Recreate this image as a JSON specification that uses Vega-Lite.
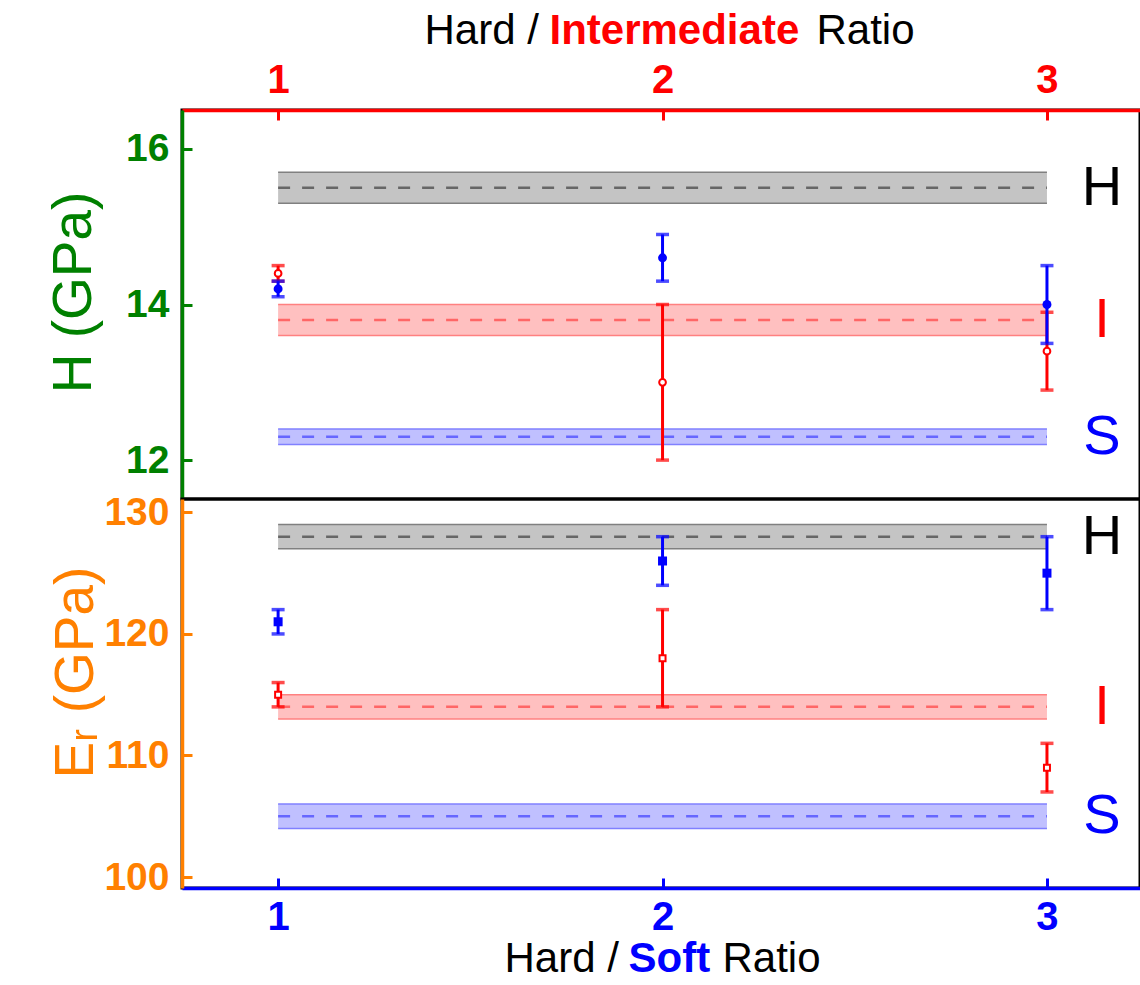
{
  "$schema": "https://vega.github.io/schema/vega-lite/v6.json",
  "padding": {"left": 44, "top": 7, "right": 1, "bottom": 2},
  "bounds": "flush",
  "spacing": 0,
  "config": {
    "view": {"stroke": "#000000", "strokeWidth": 3},
    "font": "Liberation Sans",
    "axis": {"grid": false, "labelFont": "Liberation Sans", "titleFont": "Liberation Sans", "labelFlush": false, "labelOverlap": false}
  },
  "datasets": {
    "hBands": [
      {"band": "H", "c": 15.5, "lo": 15.3, "hi": 15.7},
      {"band": "I", "c": 13.8, "lo": 13.6, "hi": 14.0},
      {"band": "S", "c": 12.3, "lo": 12.2, "hi": 12.4}
    ],
    "eBands": [
      {"band": "H", "c": 128, "lo": 127, "hi": 129},
      {"band": "I", "c": 114, "lo": 113, "hi": 115},
      {"band": "S", "c": 105, "lo": 104, "hi": 106}
    ],
    "hPts": [
      {"ratio": 1, "series": "HI", "v": 14.4, "lo": 14.3, "hi": 14.5},
      {"ratio": 2, "series": "HI", "v": 13.0, "lo": 12.0, "hi": 14.0},
      {"ratio": 3, "series": "HI", "v": 13.4, "lo": 12.9, "hi": 13.9},
      {"ratio": 1, "series": "HS", "v": 14.2, "lo": 14.1, "hi": 14.3},
      {"ratio": 2, "series": "HS", "v": 14.6, "lo": 14.3, "hi": 14.9},
      {"ratio": 3, "series": "HS", "v": 14.0, "lo": 13.5, "hi": 14.5}
    ],
    "ePts": [
      {"ratio": 1, "series": "HI", "v": 115, "lo": 114, "hi": 116},
      {"ratio": 2, "series": "HI", "v": 118, "lo": 114, "hi": 122},
      {"ratio": 3, "series": "HI", "v": 109, "lo": 107, "hi": 111},
      {"ratio": 1, "series": "HS", "v": 121, "lo": 120, "hi": 122},
      {"ratio": 2, "series": "HS", "v": 126, "lo": 124, "hi": 128},
      {"ratio": 3, "series": "HS", "v": 125, "lo": 122, "hi": 128}
    ]
  },
  "vconcat": [
    {
      "width": 958,
      "height": 389,
      "resolve": {"axis": {"x": "independent", "y": "independent"}, "scale": {"fill": "independent", "stroke": "independent"}},
      "layer": [
        {
          "data": {"name": "hBands"},
          "mark": {"type": "rect"},
          "encoding": {
            "x": {"datum": 1, "type": "quantitative", "scale": {"domain": [0.75, 3.242], "nice": false, "zero": false},
              "axis": {"orient": "top", "values": [1, 2, 3], "format": "d", "labelFontSize": 40, "labelFontWeight": "bold", "labelColor": "#ff0000", "labelBaseline": "alphabetic", "labelPadding": 28, "tickSize": -10, "tickWidth": 3, "tickColor": "#ff0000", "domainColor": "#ff0000", "domainWidth": 3.5, "title": "Hard /", "titleFontSize": 42, "titleFontWeight": "normal", "titleColor": "#000000", "titleX": 242, "titleY": -67, "titleAlign": "left", "titleBaseline": "alphabetic"}},
            "x2": {"datum": 3},
            "y": {"field": "lo", "type": "quantitative", "scale": {"domain": [11.5, 16.5], "nice": false, "zero": false},
              "axis": {"orient": "left", "values": [12, 14, 16], "format": "d", "labelFontSize": 39, "labelFontWeight": "bold", "labelColor": "#008000", "labelPadding": 23, "labelBaseline": "middle", "tickSize": -10, "tickWidth": 3, "tickColor": "#008000", "domainColor": "#008000", "domainWidth": 3.5, "title": "H (GPa)", "titleFontSize": 55, "titleFontWeight": "normal", "titleColor": "#008000", "titleX": -92, "titleY": 182, "titleAngle": 270, "titleAlign": "center", "titleBaseline": "alphabetic"}},
            "y2": {"field": "hi"},
            "fill": {"field": "band", "type": "nominal", "scale": {"domain": ["H", "I", "S"], "range": ["#c4c4c4", "#ffc0c0", "#c0c0ff"]}, "legend": null}
          }
        },
        {
          "data": {"name": "hBands"},
          "mark": {"type": "rule", "strokeWidth": 1.5},
          "encoding": {
            "x": {"datum": 1, "type": "quantitative",
              "axis": {"orient": "top", "labels": false, "ticks": false, "domain": false, "title": "Intermediate", "titleFontSize": 42, "titleFontWeight": "bold", "titleColor": "#ff0000", "titleX": 367, "titleY": -67, "titleAlign": "left", "titleBaseline": "alphabetic"}},
            "x2": {"datum": 3},
            "y": {"field": "lo", "type": "quantitative", "axis": null},
            "stroke": {"field": "band", "type": "nominal", "scale": {"domain": ["H", "I", "S"], "range": ["#808080", "#ff8080", "#8080ff"]}, "legend": null}
          }
        },
        {
          "data": {"name": "hBands"},
          "mark": {"type": "rule", "strokeWidth": 1.5},
          "encoding": {
            "x": {"datum": 1, "type": "quantitative",
              "axis": {"orient": "top", "labels": false, "ticks": false, "domain": false, "title": "Ratio", "titleFontSize": 42, "titleFontWeight": "normal", "titleColor": "#000000", "titleX": 634, "titleY": -67, "titleAlign": "left", "titleBaseline": "alphabetic"}},
            "x2": {"datum": 3},
            "y": {"field": "hi", "type": "quantitative", "axis": null},
            "stroke": {"field": "band", "type": "nominal", "scale": {"domain": ["H", "I", "S"], "range": ["#808080", "#ff8080", "#8080ff"]}, "legend": null}
          }
        },
        {
          "data": {"name": "hBands"},
          "mark": {"type": "rule", "strokeWidth": 2.5, "strokeDash": [12, 12]},
          "encoding": {
            "x": {"datum": 1, "type": "quantitative", "axis": null},
            "x2": {"datum": 3},
            "y": {"field": "c", "type": "quantitative", "axis": null},
            "stroke": {"field": "band", "type": "nominal", "scale": {"domain": ["H", "I", "S"], "range": ["#666666", "#ff6666", "#6666ff"]}, "legend": null}
          }
        },
        {
          "data": {"name": "hPts"},
          "transform": [{"filter": "datum.series == 'HI'"}],
          "mark": {"type": "errorbar", "orient": "vertical", "ticks": {"thickness": 3.5}, "rule": {"strokeWidth": 3}, "size": 13, "thickness": 3, "color": "#ff0000"},
          "encoding": {
            "x": {"field": "ratio", "type": "quantitative", "axis": null},
            "y": {"field": "lo", "type": "quantitative", "axis": null},
            "y2": {"field": "hi"}
          }
        },
        {
          "data": {"name": "hPts"},
          "transform": [{"filter": "datum.series == 'HS'"}],
          "mark": {"type": "errorbar", "orient": "vertical", "ticks": {"thickness": 3.5}, "rule": {"strokeWidth": 3}, "size": 13, "thickness": 3, "color": "#0000ff"},
          "encoding": {
            "x": {"field": "ratio", "type": "quantitative", "axis": null},
            "y": {"field": "lo", "type": "quantitative", "axis": null},
            "y2": {"field": "hi"}
          }
        },
        {
          "data": {"name": "hPts"},
          "transform": [{"filter": "datum.series == 'HI'"}],
          "mark": {"type": "point", "shape": "circle", "filled": true, "fill": "#ffffff", "stroke": "#ff0000", "strokeWidth": 2, "size": 45, "opacity": 1},
          "encoding": {
            "x": {"field": "ratio", "type": "quantitative", "axis": null},
            "y": {"field": "v", "type": "quantitative", "axis": null}
          }
        },
        {
          "data": {"name": "hPts"},
          "transform": [{"filter": "datum.series == 'HS'"}],
          "mark": {"type": "point", "shape": "circle", "filled": true, "color": "#0000ff", "size": 80, "opacity": 1},
          "encoding": {
            "x": {"field": "ratio", "type": "quantitative", "axis": null},
            "y": {"field": "v", "type": "quantitative", "axis": null}
          }
        },
        {
          "data": {"name": "hBands"},
          "mark": {"type": "text", "fontSize": 56, "font": "Liberation Sans", "baseline": "middle", "align": "center"},
          "encoding": {
            "x": {"datum": 3.143, "type": "quantitative", "axis": null},
            "y": {"field": "c", "type": "quantitative", "axis": null},
            "text": {"field": "band"},
            "color": {"field": "band", "type": "nominal", "scale": {"domain": ["H", "I", "S"], "range": ["#000000", "#ff0000", "#0000ff"]}, "legend": null}
          }
        }
      ]
    },
    {
      "width": 958,
      "height": 389,
      "resolve": {"axis": {"x": "independent", "y": "independent"}, "scale": {"fill": "independent", "stroke": "independent"}},
      "layer": [
        {
          "data": {"name": "eBands"},
          "mark": {"type": "rect"},
          "encoding": {
            "x": {"datum": 1, "type": "quantitative", "scale": {"domain": [0.75, 3.242], "nice": false, "zero": false},
              "axis": {"orient": "bottom", "values": [1, 2, 3], "format": "d", "labelFontSize": 40, "labelFontWeight": "bold", "labelColor": "#0000ff", "labelBaseline": "top", "labelPadding": 19, "tickSize": -10, "tickWidth": 3, "tickColor": "#0000ff", "domainColor": "#0000ff", "domainWidth": 3.5, "title": "Hard /", "titleFontSize": 42, "titleFontWeight": "normal", "titleColor": "#000000", "titleX": 322, "titleY": 83, "titleAlign": "left", "titleBaseline": "alphabetic"}},
            "x2": {"datum": 3},
            "y": {"field": "lo", "type": "quantitative", "scale": {"domain": [99.1, 131.1], "nice": false, "zero": false},
              "axis": {"orient": "left", "values": [100, 110, 120, 130], "format": "d", "labelFontSize": 39, "labelFontWeight": "bold", "labelColor": "#ff8000", "labelPadding": 23, "labelBaseline": "middle", "tickSize": -10, "tickWidth": 3, "tickColor": "#ff8000", "domainColor": "#ff8000", "domainWidth": 3.5, "title": "Eᵣ (GPa)", "titleFontSize": 55, "titleFontWeight": "normal", "titleColor": "#ff8000", "titleX": -90, "titleY": 173, "titleAngle": 270, "titleAlign": "center", "titleBaseline": "alphabetic"}},
            "y2": {"field": "hi"},
            "fill": {"field": "band", "type": "nominal", "scale": {"domain": ["H", "I", "S"], "range": ["#c4c4c4", "#ffc0c0", "#c0c0ff"]}, "legend": null}
          }
        },
        {
          "data": {"name": "eBands"},
          "mark": {"type": "rule", "strokeWidth": 1.5},
          "encoding": {
            "x": {"datum": 1, "type": "quantitative",
              "axis": {"orient": "bottom", "labels": false, "ticks": false, "domain": false, "title": "Soft", "titleFontSize": 42, "titleFontWeight": "bold", "titleColor": "#0000ff", "titleX": 446, "titleY": 83, "titleAlign": "left", "titleBaseline": "alphabetic"}},
            "x2": {"datum": 3},
            "y": {"field": "lo", "type": "quantitative", "axis": null},
            "stroke": {"field": "band", "type": "nominal", "scale": {"domain": ["H", "I", "S"], "range": ["#808080", "#ff8080", "#8080ff"]}, "legend": null}
          }
        },
        {
          "data": {"name": "eBands"},
          "mark": {"type": "rule", "strokeWidth": 1.5},
          "encoding": {
            "x": {"datum": 1, "type": "quantitative",
              "axis": {"orient": "bottom", "labels": false, "ticks": false, "domain": false, "title": "Ratio", "titleFontSize": 42, "titleFontWeight": "normal", "titleColor": "#000000", "titleX": 540, "titleY": 83, "titleAlign": "left", "titleBaseline": "alphabetic"}},
            "x2": {"datum": 3},
            "y": {"field": "hi", "type": "quantitative", "axis": null},
            "stroke": {"field": "band", "type": "nominal", "scale": {"domain": ["H", "I", "S"], "range": ["#808080", "#ff8080", "#8080ff"]}, "legend": null}
          }
        },
        {
          "data": {"name": "eBands"},
          "mark": {"type": "rule", "strokeWidth": 2.5, "strokeDash": [12, 12]},
          "encoding": {
            "x": {"datum": 1, "type": "quantitative", "axis": null},
            "x2": {"datum": 3},
            "y": {"field": "c", "type": "quantitative", "axis": null},
            "stroke": {"field": "band", "type": "nominal", "scale": {"domain": ["H", "I", "S"], "range": ["#666666", "#ff6666", "#6666ff"]}, "legend": null}
          }
        },
        {
          "data": {"name": "ePts"},
          "transform": [{"filter": "datum.series == 'HI'"}],
          "mark": {"type": "errorbar", "orient": "vertical", "ticks": {"thickness": 3.5}, "rule": {"strokeWidth": 3}, "size": 13, "thickness": 3, "color": "#ff0000"},
          "encoding": {
            "x": {"field": "ratio", "type": "quantitative", "axis": null},
            "y": {"field": "lo", "type": "quantitative", "axis": null},
            "y2": {"field": "hi"}
          }
        },
        {
          "data": {"name": "ePts"},
          "transform": [{"filter": "datum.series == 'HS'"}],
          "mark": {"type": "errorbar", "orient": "vertical", "ticks": {"thickness": 3.5}, "rule": {"strokeWidth": 3}, "size": 13, "thickness": 3, "color": "#0000ff"},
          "encoding": {
            "x": {"field": "ratio", "type": "quantitative", "axis": null},
            "y": {"field": "lo", "type": "quantitative", "axis": null},
            "y2": {"field": "hi"}
          }
        },
        {
          "data": {"name": "ePts"},
          "transform": [{"filter": "datum.series == 'HI'"}],
          "mark": {"type": "point", "shape": "square", "filled": true, "fill": "#ffffff", "stroke": "#ff0000", "strokeWidth": 2, "size": 36, "opacity": 1},
          "encoding": {
            "x": {"field": "ratio", "type": "quantitative", "axis": null},
            "y": {"field": "v", "type": "quantitative", "axis": null}
          }
        },
        {
          "data": {"name": "ePts"},
          "transform": [{"filter": "datum.series == 'HS'"}],
          "mark": {"type": "point", "shape": "square", "filled": true, "color": "#0000ff", "size": 81, "opacity": 1},
          "encoding": {
            "x": {"field": "ratio", "type": "quantitative", "axis": null},
            "y": {"field": "v", "type": "quantitative", "axis": null}
          }
        },
        {
          "data": {"name": "eBands"},
          "mark": {"type": "text", "fontSize": 56, "font": "Liberation Sans", "baseline": "middle", "align": "center"},
          "encoding": {
            "x": {"datum": 3.143, "type": "quantitative", "axis": null},
            "y": {"field": "c", "type": "quantitative", "axis": null},
            "text": {"field": "band"},
            "color": {"field": "band", "type": "nominal", "scale": {"domain": ["H", "I", "S"], "range": ["#000000", "#ff0000", "#0000ff"]}, "legend": null}
          }
        }
      ]
    }
  ]
}
